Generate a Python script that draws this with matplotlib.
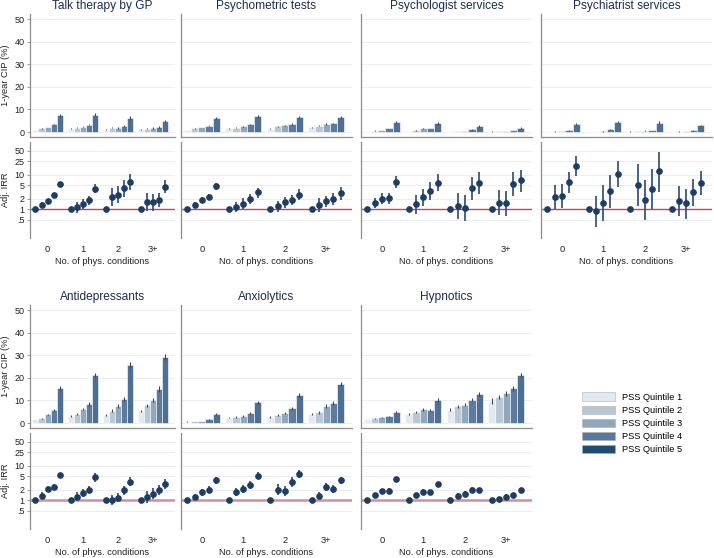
import numpy as np
import matplotlib
matplotlib.use("Agg")
import matplotlib.pyplot as plt
from matplotlib.patches import Patch

plt.rcParams['font.family'] = ['Liberation Sans', 'DejaVu Sans']

groups = ['0', '1', '2', '3+']
quintiles = ['PSS Quintile 1', 'PSS Quintile 2', 'PSS Quintile 3', 'PSS Quintile 4', 'PSS Quintile 5']
titles = ['Talk therapy by GP', 'Psychometric tests', 'Psychologist services', 'Psychiatrist services',
          'Antidepressants', 'Anxiolytics', 'Hypnotics']

# 1-year CIP (%) : one row per group (0,1,2,3+), one value per quintile
talk_cip = [[1.0, 1.6, 2.3, 3.4, 7.6], [1.5, 1.9, 2.3, 3.2, 7.7], [1.0, 1.9, 1.8, 2.8, 6.3], [1.2, 1.5, 1.8, 2.3, 4.9]]
talk_err = [[0.1, 0.15, 0.15, 0.2, 0.5], [0.15, 0.2, 0.2, 0.3, 0.7], [0.2, 0.3, 0.3, 0.4, 0.8], [0.2, 0.2, 0.3, 0.3, 0.6]]
test_cip = [[1.0, 1.6, 2.3, 2.8, 6.3], [1.6, 2.0, 2.5, 3.4, 6.9], [1.5, 2.5, 2.9, 3.7, 6.6], [2.1, 2.8, 3.4, 3.8, 6.6]]
test_err = [[0.1, 0.15, 0.15, 0.2, 0.5], [0.2, 0.2, 0.25, 0.3, 0.6], [0.2, 0.3, 0.3, 0.4, 0.6], [0.3, 0.3, 0.4, 0.4, 0.6]]
psyc_cip = [[0.4, 0.6, 1.0, 1.8, 4.3], [0.4, 0.7, 1.6, 1.8, 3.8], [0.3, 0.4, 0.4, 1.2, 2.8], [0.2, 0.3, 0.4, 0.9, 1.8]]
psyc_err = [[0.05, 0.1, 0.1, 0.15, 0.4], [0.05, 0.1, 0.15, 0.2, 0.5], [0.05, 0.1, 0.1, 0.2, 0.5], [0.05, 0.05, 0.1, 0.15, 0.4]]
psyt_cip = [[0.15, 0.2, 0.3, 0.7, 3.7], [0.15, 0.15, 0.3, 1.2, 4.3], [0.2, 0.4, 0.6, 0.9, 4.1], [0.1, 0.2, 0.4, 0.7, 2.9]]
psyt_err = [[0.03, 0.05, 0.05, 0.1, 0.4], [0.03, 0.05, 0.1, 0.2, 0.5], [0.05, 0.1, 0.1, 0.2, 0.6], [0.03, 0.05, 0.1, 0.1, 0.4]]
adep_cip = [[1.8, 2.2, 3.8, 5.7, 15.6], [3.1, 4.0, 6.2, 8.4, 21.2], [3.5, 5.4, 7.5, 10.6, 25.7], [5.3, 7.9, 10.4, 15.1, 29.3]]
adep_err = [[0.2, 0.2, 0.3, 0.4, 0.8], [0.4, 0.4, 0.6, 0.7, 1.0], [0.6, 0.6, 0.8, 1.0, 1.4], [0.6, 0.7, 0.9, 1.3, 1.3]]
anx_cip = [[0.6, 0.8, 1.0, 1.6, 4.0], [2.4, 2.6, 3.2, 4.3, 9.1], [2.5, 3.5, 4.3, 6.5, 12.4], [4.0, 4.7, 7.6, 9.0, 17.2]]
anx_err = [[0.1, 0.1, 0.1, 0.2, 0.4], [0.3, 0.3, 0.4, 0.5, 0.8], [0.4, 0.4, 0.5, 0.7, 1.0], [0.6, 0.6, 0.8, 0.8, 1.0]]
hyp_cip = [[1.8, 2.2, 2.6, 2.9, 4.9], [4.1, 4.9, 6.0, 5.7, 10.3], [5.9, 7.4, 8.1, 10.4, 12.9], [9.7, 11.5, 13.2, 15.4, 21.2]]
hyp_err = [[0.2, 0.2, 0.2, 0.3, 0.5], [0.4, 0.4, 0.5, 0.5, 0.8], [0.6, 0.6, 0.7, 0.8, 1.0], [1.3, 0.9, 1.0, 1.0, 1.0]]

# adjusted IRR with lower / upper CI (quintile 1 = reference)
talk_irr = [[1, 1.37, 1.75, 2.56, 5.34], [1, 1.14, 1.46, 1.83, 4.0], [1, 2.34, 2.67, 4.1, 6.1], [1, 1.63, 1.63, 1.83, 4.4]]
talk_lo = [[1, 1.12, 1.46, 2.14, 4.5], [1, 0.80, 1.0, 1.34, 2.9], [1, 1.28, 1.5, 2.3, 3.66], [1, 0.91, 0.89, 1.14, 2.9]]
talk_hi = [[1, 1.67, 2.0, 3.06, 6.4], [1, 1.67, 2.0, 2.5, 5.6], [1, 4.1, 4.9, 7.0, 10.4], [1, 2.9, 2.7, 2.9, 7.0]]
test_irr = [[1, 1.37, 1.91, 2.34, 4.67], [1, 1.17, 1.46, 2.0, 3.13], [1, 1.22, 1.6, 1.87, 2.67], [1, 1.37, 1.71, 2.0, 2.92]]
test_lo = [[1, 1.12, 1.56, 1.87, 3.66], [1, 0.82, 1.0, 1.4, 2.19], [1, 0.82, 1.12, 1.34, 1.87], [1, 0.84, 1.14, 1.34, 1.87]]
test_hi = [[1, 1.67, 2.34, 2.86, 5.85], [1, 1.6, 2.19, 2.86, 4.28], [1, 1.75, 2.28, 2.6, 3.9], [1, 2.09, 2.5, 2.99, 4.37]]
psyc_irr = [[1, 1.53, 2.04, 2.14, 6.25], [1, 1.43, 2.24, 3.42, 5.98], [1, 1.28, 1.07, 4.17, 5.98], [1, 1.56, 1.5, 5.46, 6.99]]
psyc_lo = [[1, 1.05, 1.43, 1.46, 4.28], [1, 0.71, 1.25, 1.91, 3.34], [1, 0.53, 0.45, 1.87, 2.86], [1, 0.67, 0.63, 2.39, 3.27]]
psyc_hi = [[1, 2.19, 2.99, 3.06, 9.1], [1, 2.67, 4.0, 6.25, 10.4], [1, 2.99, 2.56, 8.7, 11.9], [1, 3.74, 3.42, 11.9, 14.0]]
psyt_irr = [[1, 2.34, 2.45, 6.1, 18.3], [1, 0.89, 1.5, 3.42, 10.7], [1, 5.2, 1.91, 3.9, 13.1], [1, 1.75, 1.5, 3.2, 5.85]]
psyt_lo = [[1, 1.0, 1.07, 3.06, 9.3], [1, 0.31, 0.44, 1.07, 4.37], [1, 1.25, 0.47, 1.0, 3.27], [1, 0.64, 0.53, 1.28, 2.6]]
psyt_hi = [[1, 5.1, 5.5, 12.2, 35.8], [1, 2.45, 5.1, 10.2, 25.5], [1, 20.9, 7.1, 14.6, 46.8], [1, 4.77, 3.82, 7.6, 12.8]]
adep_irr = [[1, 1.37, 2.19, 2.5, 5.34], [1, 1.28, 1.67, 2.04, 4.67], [1, 1.02, 1.2, 1.96, 3.42], [1, 1.25, 1.56, 2.0, 2.99]]
adep_lo = [[1, 1.09, 1.87, 2.14, 4.57], [1, 0.96, 1.25, 1.6, 3.5], [1, 0.75, 0.86, 1.43, 2.56], [1, 0.84, 1.07, 1.46, 2.14]]
adep_hi = [[1, 1.71, 2.56, 2.92, 6.25], [1, 1.71, 2.19, 2.6, 6.1], [1, 1.4, 1.67, 2.67, 4.67], [1, 1.87, 2.24, 2.8, 4.28]]
anx_irr = [[1, 1.25, 1.71, 2.04, 3.9], [1, 1.75, 2.19, 2.86, 5.2], [1, 2.04, 1.83, 3.42, 5.98], [1, 1.37, 2.45, 2.14, 3.82]]
anx_lo = [[1, 1.0, 1.3, 1.6, 3.06], [1, 1.3, 1.64, 2.19, 4.17], [1, 1.4, 1.3, 2.45, 4.57], [1, 1.07, 1.87, 1.64, 3.06]]
anx_hi = [[1, 1.56, 2.19, 2.56, 4.9], [1, 2.28, 2.86, 3.66, 6.5], [1, 3.06, 2.56, 4.67, 7.8], [1, 1.75, 3.2, 2.8, 4.77]]
hyp_irr = [[1, 1.4, 1.87, 1.91, 4.09], [1, 1.43, 1.79, 1.71, 2.92], [1, 1.34, 1.5, 2.04, 1.96], [1, 1.09, 1.28, 1.43, 2.0]]
hyp_lo = [[1, 1.2, 1.6, 1.64, 3.42], [1, 1.22, 1.53, 1.43, 2.5], [1, 1.12, 1.22, 1.71, 1.64], [1, 0.94, 1.09, 1.22, 1.71]]
hyp_hi = [[1, 1.64, 2.19, 2.24, 4.77], [1, 1.67, 2.09, 2.04, 3.42], [1, 1.6, 1.83, 2.45, 2.34], [1, 1.28, 1.5, 1.67, 2.34]]

cips = [talk_cip, test_cip, psyc_cip, psyt_cip, adep_cip, anx_cip, hyp_cip]
cip_errs = [talk_err, test_err, psyc_err, psyt_err, adep_err, anx_err, hyp_err]
irrs = [talk_irr, test_irr, psyc_irr, psyt_irr, adep_irr, anx_irr, hyp_irr]
irr_los = [talk_lo, test_lo, psyc_lo, psyt_lo, adep_lo, anx_lo, hyp_lo]
irr_his = [talk_hi, test_hi, psyc_hi, psyt_hi, adep_hi, anx_hi, hyp_hi]

bar_colors = ['#e3e9f0', '#bac8d6', '#91a7bd', '#5b7c9e', '#4d6f93']
legend_colors = ['#e2e9f0', '#b9c7d4', '#8fa6bc', '#58799b', '#1f4b77']
grid_c = '#e9edf2'
spine_c = '#8a8a8a'
W, H = 714, 558

fig = plt.figure(figsize=(W / 100, H / 100), dpi=100)

col_px = [(30, 175), (181, 352), (361, 532), (541, 712)]
row_px = [((14, 137), (142, 238)), ((305, 428), (433, 529))]


def frac(x0, x1, y0, y1):
    return [x0 / W, 1 - y1 / H, (x1 - x0) / W, (y1 - y0) / H]


x = np.arange(len(groups))
bw = 0.173
offs = (np.arange(5) - 2) * bw

for i in range(7):
    r, c = divmod(i, 4)
    (x0, x1) = col_px[c]
    (ty0, ty1), (by0, by1) = row_px[r]
    ax = fig.add_axes(frac(x0, x1, ty0, ty1))
    ax2 = fig.add_axes(frac(x0, x1, by0, by1))

    cip = np.array(cips[i])
    err = np.array(cip_errs[i])
    for q in range(5):
        ax.bar(x + offs[q], cip[:, q], width=bw, color=bar_colors[q], edgecolor='white', linewidth=0.4, zorder=2)
        ax.errorbar(x + offs[q], cip[:, q], yerr=err[:, q], fmt='none', ecolor='#34495f', elinewidth=0.8, zorder=3)
    ax.set_ylim(-2.2, 52.3)
    ax.set_yticks([0, 10, 20, 30, 40, 50])
    ax.set_title(titles[i], fontsize=8.6, color='#1f2d4d', pad=3.6)

    irr = np.array(irrs[i])
    lo = np.array(irr_los[i])
    hi = np.array(irr_his[i])
    ax2.axhline(1, color='#c8405a' if r == 0 else '#d98a9c', lw=1.0 if r == 0 else 1.8, zorder=1)
    for q in range(5):
        ax2.vlines(x + offs[q], lo[:, q], hi[:, q], color='#3a5779', lw=1.3, zorder=2)
        ax2.plot(x + offs[q], irr[:, q], 'o', color='#1e3d62', ms=3.8, zorder=3)
    ax2.set_yscale('log')
    ax2.set_ylim(0.145, 91)
    ax2.set_yticks([0.5, 1, 2, 5, 10, 25, 50])
    ax2.set_yticklabels(['.5', '1', '2', '5', '10', '25', '50'])
    ax2.minorticks_off()
    ax2.set_xticks(x)
    ax2.set_xticklabels(groups)
    ax2.set_xlabel('No. of phys. conditions', fontsize=6.7, color='#222222', labelpad=2)

    for a in (ax, ax2):
        a.set_xlim(-0.5, 3.62)
        a.grid(axis='y', color=grid_c, lw=0.7, zorder=0)
        a.set_axisbelow(True)
        for s in ['top', 'right']:
            a.spines[s].set_visible(False)
        a.spines['left'].set_color(spine_c)
        a.spines['left'].set_linewidth(0.9)
        a.tick_params(axis='y', labelsize=6.5, colors='#222222', length=2.5, width=0.6, pad=1.5, color=spine_c)
        a.tick_params(axis='x', labelsize=6.7, colors='#222222', length=0, pad=5)
    ax.spines['bottom'].set_color(spine_c)
    ax.spines['bottom'].set_linewidth(0.9)
    ax.set_xticks([])
    ax2.spines['bottom'].set_visible(False)

    if c == 0:
        fig.text(6 / W, 1 - ((ty0 + ty1) / 2) / H, '1-year CIP (%)', rotation=90, va='center', ha='center',
                 fontsize=6.7, color='#222222')
        fig.text(6 / W, 1 - ((by0 + by1) / 2) / H, 'Adj. IRR', rotation=90, va='center', ha='center',
                 fontsize=6.7, color='#222222')
    else:
        ax.tick_params(axis='y', left=False, labelleft=False)
        ax2.tick_params(axis='y', left=False, labelleft=False)

handles = [Patch(facecolor=legend_colors[q], edgecolor='#b0b0b0', linewidth=0.4) for q in range(5)]
fig.legend(handles, quintiles, loc='upper left', bbox_to_anchor=(582 / W, 1 - 392.5 / H), frameon=False,
           fontsize=6.7, handlelength=3.5, handleheight=0.95, handletextpad=0.85, labelspacing=0.42,
           borderpad=0, borderaxespad=0)

fig.savefig('out.png', dpi=100)
